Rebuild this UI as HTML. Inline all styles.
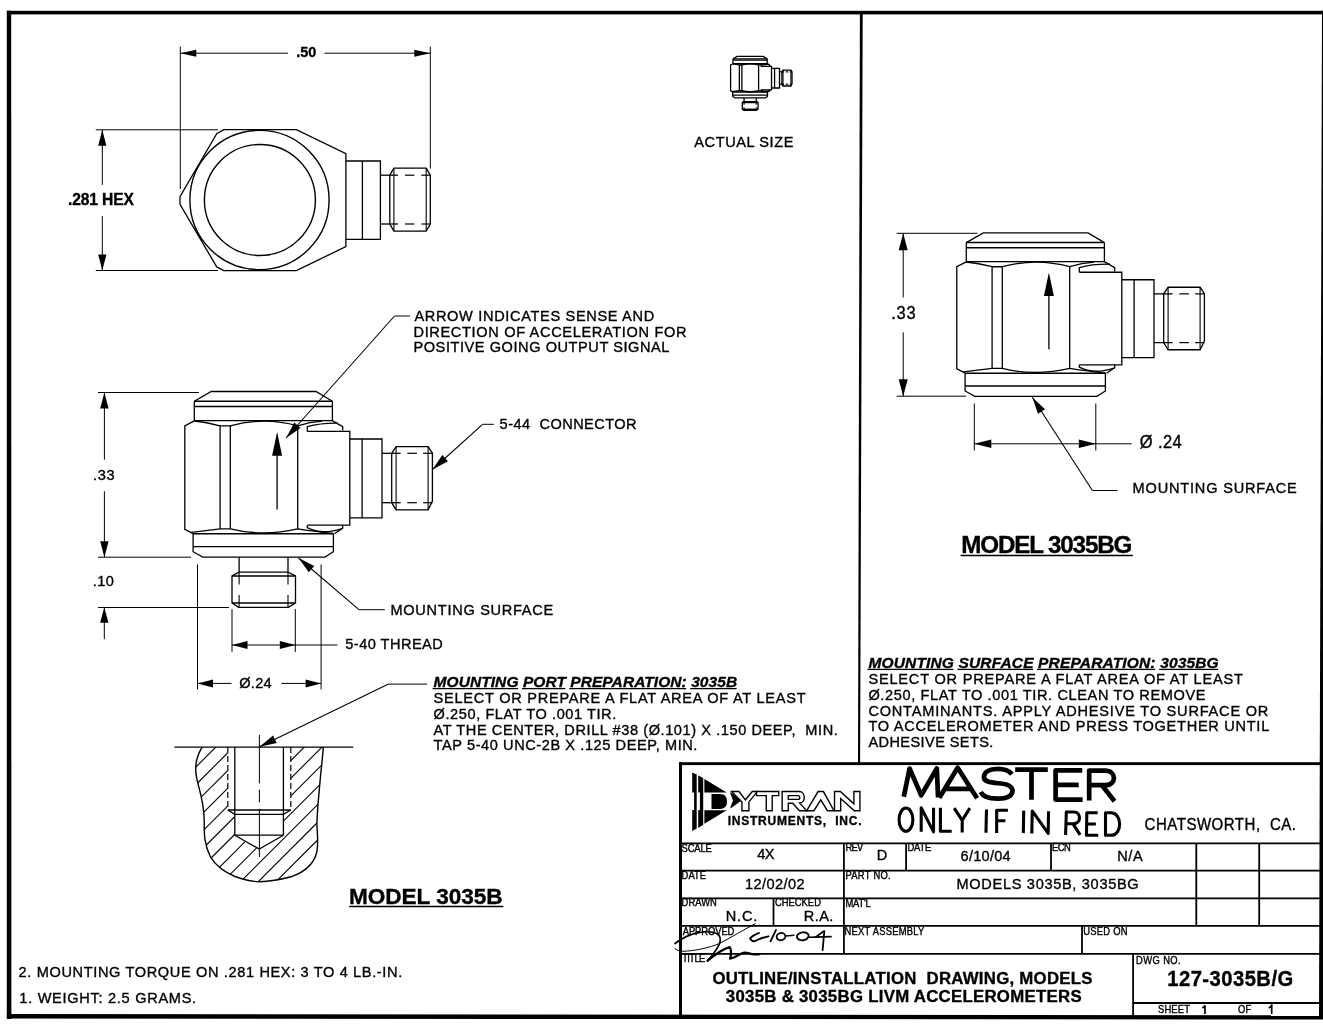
<!DOCTYPE html>
<html><head><meta charset="utf-8"><title>Outline Drawing 3035B</title>
<style>
html,body{margin:0;padding:0;background:#fff;overflow:hidden;}
svg{display:block;will-change:transform;}
.ns *{vector-effect:non-scaling-stroke;}
#sv *,#stud *{vector-effect:non-scaling-stroke;}
text{font-family:"Liberation Sans",sans-serif;}
</style></head><body>
<svg width="1323" height="1024" viewBox="0 0 1323 1024" stroke="#000" stroke-linecap="butt">
<rect x="7" y="10.8" width="1320" height="3.6" fill="#000" stroke="none"/>
<path d="M6.8,10.8 L11.2,10.8 L11.4,1019 L6.8,1019 Z" fill="#000" stroke="none"/>
<path d="M6.8,1014 L1330,1015.2 L1330,1019.5 L6.8,1018.5 Z" fill="#000" stroke="none"/>
<path d="M1322,10.8 L1330,10.8 L1330,1019 L1319,1019 Z" fill="#000" stroke="none"/>
<path d="M859.9,12 L862.7,12 L860.1,763 L858,763 Z" fill="#000" stroke="none"/>
<path d="M223.75,129.7 L296.4,129.7 L345.9,153.6 L345.9,246.6 L296.4,270.6 L223.75,270.6 L216.7,266.9 L180,204.4 L180,196.6 L216.7,133.75 Z" stroke-width="1.3" fill="none" />
<circle cx="259.5" cy="200" r="69.6" fill="none" stroke-width="1.4"/>
<circle cx="259.9" cy="200" r="55.5" fill="none" stroke-width="1.4"/>
<path d="M345.9,161 L380.4,161 L380.4,239.3 L345.9,239.3" stroke-width="1.3" fill="none" />
<line x1="362.4" y1="161" x2="362.4" y2="239.3" stroke-width="1.3" />
<line x1="380.4" y1="175.2" x2="398" y2="175.2" stroke-width="1.3" />
<line x1="380.4" y1="224" x2="398" y2="224" stroke-width="1.3" />
<path d="M389.8,175.2 L393.9,168.1 L426.2,168.1 L430.3,175.2 L430.3,224 L426.2,231.1 L393.9,231.1 L389.8,224 Z" stroke-width="1.3" fill="none" />
<line x1="393.9" y1="168.1" x2="393.9" y2="231.1" stroke-width="1.1" />
<line x1="426.2" y1="168.1" x2="426.2" y2="231.1" stroke-width="1.1" />
<line x1="405" y1="175.2" x2="414.4" y2="175.2" stroke-width="1.2" />
<line x1="421.4" y1="175.2" x2="430.3" y2="175.2" stroke-width="1.2" />
<line x1="405" y1="224" x2="414.4" y2="224" stroke-width="1.2" />
<line x1="421.4" y1="224" x2="430.3" y2="224" stroke-width="1.2" />
<line x1="180.3" y1="46.6" x2="180.3" y2="189" stroke-width="1" />
<line x1="430.3" y1="46.6" x2="430.3" y2="168.5" stroke-width="1" />
<line x1="180.3" y1="53.2" x2="288" y2="53.2" stroke-width="1" />
<line x1="324.5" y1="53.2" x2="430.3" y2="53.2" stroke-width="1" />
<path d="M180.3,53.2 L196.3,56.7 L196.3,49.7 Z" fill="#000" stroke="none"/>
<path d="M430.3,53.2 L414.3,49.7 L414.3,56.7 Z" fill="#000" stroke="none"/>
<text transform="translate(296.2,57.1) scale(1.0000,1)" font-size="14.4" font-weight="bold" textLength="20" lengthAdjust="spacing" fill="#000" stroke="#000" stroke-width="0.35" xml:space="preserve">.50</text>
<line x1="95.8" y1="129.8" x2="218" y2="129.8" stroke-width="1" />
<line x1="95.8" y1="270.5" x2="218" y2="270.5" stroke-width="1" />
<line x1="102.3" y1="129.8" x2="102.3" y2="184.8" stroke-width="1" />
<line x1="102.3" y1="216.1" x2="102.3" y2="270.5" stroke-width="1" />
<path d="M102.3,129.8 L98.2,145.8 L106.4,145.8 Z" fill="#000" stroke="none"/>
<path d="M102.3,270.5 L106.4,254.5 L98.2,254.5 Z" fill="#000" stroke="none"/>
<text transform="translate(68.05,204.7) scale(1.0000,1)" font-size="15.6" font-weight="bold" textLength="65.75" lengthAdjust="spacing" fill="#000" stroke="#000" stroke-width="0.35" xml:space="preserve">.281 HEX</text>
<text transform="translate(694.3,147.3) scale(0.9400,1)" font-size="15.5" textLength="105.44" lengthAdjust="spacing" fill="#000" stroke="#000" stroke-width="0.37" xml:space="preserve">ACTUAL SIZE</text>
<g id="sv"><path d="M194.3,401.3 L211.3,391.5 L316,391.5 L332.4,401.3" stroke-width="1.3" fill="none" /><line x1="194.3" y1="401.3" x2="332.4" y2="401.3" stroke-width="1.4" /><line x1="194.3" y1="406.5" x2="332.4" y2="406.5" stroke-width="1.4" /><line x1="194.3" y1="401.3" x2="194.3" y2="420.6" stroke-width="1.3" /><line x1="332.4" y1="401.3" x2="332.4" y2="420.6" stroke-width="1.3" /><line x1="194.3" y1="420.6" x2="332.4" y2="420.6" stroke-width="1.4" /><path d="M194.3,420.8 L184.8,425.8 L184.8,529.3 L191.3,532.6 L193.1,533.8" stroke-width="1.3" fill="none" /><path d="M194.3,421 Q206,422.2 220.1,425.8 L230.3,425.8 Q264,416.5 297.7,425.8 Q310,422 322,421.2" stroke-width="1.3" fill="none" /><line x1="220.1" y1="425.8" x2="220.1" y2="528.9" stroke-width="1.3" /><line x1="230.3" y1="425.8" x2="230.3" y2="528.9" stroke-width="1.3" /><line x1="297.7" y1="425.8" x2="297.7" y2="528.9" stroke-width="1.3" /><path d="M332.3,420.6 L342.7,426.7 L342.7,430.6" stroke-width="1.3" fill="none" /><path d="M307.3,431.4 L307.3,426.7 Q320,423 338,423.2" stroke-width="1.3" fill="none" /><path d="M307.3,431.4 L349.8,431.4 L349.8,525.2 L307.3,525.2" stroke-width="1.3" fill="none" /><path d="M191.3,532.4 Q206,530.8 220.1,528.9 L230.3,528.9 Q263,537 297.7,528.9 Q312,531.3 333.4,533.5" stroke-width="1.3" fill="none" /><path d="M307.3,525.2 L307.3,527.6 Q322,535.5 342.7,528.3" stroke-width="1.3" fill="none" /><path d="M342.7,525.2 L342.7,528.1 L334.5,533.8" stroke-width="1.3" fill="none" /><path d="M349.8,439 L382,439 L382,517.9 L349.8,517.9" stroke-width="1.3" fill="none" /><line x1="362.1" y1="439" x2="362.1" y2="517.9" stroke-width="1.3" /><line x1="382" y1="453.3" x2="400.6" y2="453.3" stroke-width="1.3" /><line x1="382" y1="502.7" x2="400.6" y2="502.7" stroke-width="1.3" /><path d="M391.7,453.3 L396.1,446.6 L428.1,446.6 L432.4,453.1 L432.4,501.1 L428.1,509.9 L396.1,509.9 L391.7,502.7 Z" stroke-width="1.3" fill="none" /><line x1="396.1" y1="446.6" x2="396.1" y2="509.9" stroke-width="1.1" /><line x1="428.1" y1="446.6" x2="428.1" y2="509.9" stroke-width="1.1" /><line x1="407.3" y1="453.3" x2="416.9" y2="453.3" stroke-width="1.2" /><line x1="423.1" y1="453.3" x2="432.4" y2="453.3" stroke-width="1.2" /><line x1="407.3" y1="502.7" x2="416.9" y2="502.7" stroke-width="1.2" /><line x1="423.1" y1="502.7" x2="432.4" y2="502.7" stroke-width="1.2" /><line x1="193.1" y1="533.8" x2="333.4" y2="533.8" stroke-width="1.4" /><path d="M193.1,533.8 L193.1,551.7 L202.8,557.1 L324.9,557.1 L333.4,551.7 L333.4,533.8" stroke-width="1.3" fill="none" /><line x1="193.1" y1="546.6" x2="333.4" y2="546.6" stroke-width="1.4" /></g>
<use href="#sv" transform="translate(772,232.9) scale(1,0.9867) translate(0,-391.5)"/>
<g id="stud"><line x1="239.1" y1="557.2" x2="239.1" y2="572.4" stroke-width="1.3" /><line x1="288" y1="557.2" x2="288" y2="572.4" stroke-width="1.3" /><path d="M239.1,572.2 L232,575.8 L232,602.8 L238.5,607.4 L288.4,607.4 L295.5,602.8 L295.5,575.8 L288,572.2 Z" stroke-width="1.3" fill="none" /><line x1="232" y1="576" x2="295.5" y2="576" stroke-width="1.4" /><line x1="232" y1="603" x2="295.5" y2="603" stroke-width="1.4" /><line x1="239.1" y1="572.2" x2="239.1" y2="584.5" stroke-width="1.1" /><line x1="239.1" y1="595.1" x2="239.1" y2="607.4" stroke-width="1.1" /><line x1="288" y1="572.2" x2="288" y2="584.5" stroke-width="1.1" /><line x1="288" y1="595.1" x2="288" y2="607.4" stroke-width="1.1" /></g>
<line x1="277.1" y1="450" x2="277.1" y2="509.6" stroke-width="1.3" />
<path d="M277.1,432 L272.1,455.7 L282.1,455.7 Z" fill="#000" stroke="none"/>
<line x1="1048.9" y1="295" x2="1048.9" y2="349.3" stroke-width="1.3" />
<path d="M1048.9,272.5 L1043.9,295.9 L1053.9,295.9 Z" fill="#000" stroke="none"/>
<g transform="translate(730.6,56.4) scale(0.248,0.25) translate(-184.8,-391.5)" class="ns"><use href="#sv"/><use href="#stud"/></g>
<line x1="394.5" y1="316" x2="410" y2="316" stroke-width="1" />
<line x1="394.5" y1="316" x2="286.1" y2="438" stroke-width="1.1" />
<path d="M286.1,438 L300.53,428.08 L294.25,422.5 Z" fill="#000" stroke="none"/>
<text transform="translate(414.4,320.8) scale(0.9400,1)" font-size="15.5" textLength="255.09" lengthAdjust="spacing" fill="#000" stroke="#000" stroke-width="0.37" xml:space="preserve">ARROW INDICATES SENSE AND</text>
<text transform="translate(413.46,336.6) scale(0.9400,1)" font-size="15.5" textLength="290.45" lengthAdjust="spacing" fill="#000" stroke="#000" stroke-width="0.37" xml:space="preserve">DIRECTION OF ACCELERATION FOR</text>
<text transform="translate(413.46,352.4) scale(0.9400,1)" font-size="15.5" textLength="272.32" lengthAdjust="spacing" fill="#000" stroke="#000" stroke-width="0.37" xml:space="preserve">POSITIVE GOING OUTPUT SIGNAL</text>
<line x1="482.6" y1="424.3" x2="493.9" y2="424.3" stroke-width="1" />
<line x1="482.6" y1="424.3" x2="432.5" y2="469.5" stroke-width="1.1" />
<path d="M432.5,469.5 L447.94,461.23 L442.31,454.99 Z" fill="#000" stroke="none"/>
<text transform="translate(499.6,429.2) scale(0.9400,1)" font-size="15.5" textLength="145.73" lengthAdjust="spacing" fill="#000" stroke="#000" stroke-width="0.37" xml:space="preserve">5-44  CONNECTOR</text>
<line x1="98" y1="392.5" x2="199" y2="392.5" stroke-width="1" />
<line x1="98" y1="557.2" x2="191" y2="557.2" stroke-width="1" />
<line x1="98" y1="607.5" x2="228.9" y2="607.5" stroke-width="1" />
<line x1="104.4" y1="392.5" x2="104.4" y2="459.7" stroke-width="1" />
<line x1="104.4" y1="491.3" x2="104.4" y2="557.2" stroke-width="1" />
<path d="M104.4,392.5 L100.2,408.5 L108.6,408.5 Z" fill="#000" stroke="none"/>
<path d="M104.4,557.2 L108.6,541.2 L100.2,541.2 Z" fill="#000" stroke="none"/>
<text transform="translate(92.96,479.5) scale(0.9400,1)" font-size="15.5" textLength="23.11" lengthAdjust="spacing" fill="#000" stroke="#000" stroke-width="0.37" xml:space="preserve">.33</text>
<text transform="translate(92.86,586.2) scale(0.9400,1)" font-size="15.5" textLength="22.32" lengthAdjust="spacing" fill="#000" stroke="#000" stroke-width="0.37" xml:space="preserve">.10</text>
<line x1="104.3" y1="607.5" x2="104.3" y2="639.2" stroke-width="1" />
<path d="M104.3,607.5 L100.1,622.8 L108.5,622.8 Z" fill="#000" stroke="none"/>
<line x1="358.9" y1="609.7" x2="384.8" y2="609.7" stroke-width="1" />
<line x1="358.9" y1="609.7" x2="298.6" y2="558" stroke-width="1.1" />
<path d="M298.6,558 L308.77,572.25 L314.24,565.88 Z" fill="#000" stroke="none"/>
<text transform="translate(390.46,615.2) scale(0.9400,1)" font-size="15.5" textLength="173.15" lengthAdjust="spacing" fill="#000" stroke="#000" stroke-width="0.37" xml:space="preserve">MOUNTING SURFACE</text>
<line x1="232" y1="609.1" x2="232" y2="651.9" stroke-width="1" />
<line x1="295.3" y1="609.1" x2="295.3" y2="651.9" stroke-width="1" />
<line x1="232" y1="645" x2="337.4" y2="645" stroke-width="1" />
<path d="M232,645 L247.5,649 L247.5,641 Z" fill="#000" stroke="none"/>
<path d="M295.3,645 L279.8,641 L279.8,649 Z" fill="#000" stroke="none"/>
<text transform="translate(345.3,648.5) scale(0.9400,1)" font-size="15.5" textLength="103.7" lengthAdjust="spacing" fill="#000" stroke="#000" stroke-width="0.37" xml:space="preserve">5-40 THREAD</text>
<line x1="197.5" y1="564.4" x2="197.5" y2="689.4" stroke-width="1" />
<line x1="321.1" y1="564.4" x2="321.1" y2="689.4" stroke-width="1" />
<line x1="197.5" y1="683.4" x2="231.5" y2="683.4" stroke-width="1" />
<line x1="281.4" y1="683.4" x2="321.1" y2="683.4" stroke-width="1" />
<path d="M197.5,683.4 L213,687.4 L213,679.4 Z" fill="#000" stroke="none"/>
<path d="M321.1,683.4 L305.6,679.4 L305.6,687.4 Z" fill="#000" stroke="none"/>
<text transform="translate(239.2,687.6) scale(0.9400,1)" font-size="15.5" textLength="34.51" lengthAdjust="spacing" fill="#000" stroke="#000" stroke-width="0.37" xml:space="preserve">Ø.24</text>
<defs><clipPath id="secclip"><path d="M202.3,746.9 C196,757 194.5,768 196.7,778 C198.5,788 203,798 204,816.2 C205,828 202,840 210.6,857.2 C216,866 224,872 235,876.5 C245,880 252,881.8 259.5,881.8 C272,881.5 281,879.5 291,876.8 C305,872 314,864 316.8,852 C319,840 316.5,830 317,822 C317.5,805 319,795 319.8,784 C321,770 322.5,758 323.4,746.9 Z"/><clipPath id="holeclip"><path d="M0,0 H1323 V1024 H0 Z M227.8,746 L290.8,746 L290.8,810 L283.4,814.3 L283.4,835.2 L259.3,849.1 L234.8,835.2 L234.8,814.3 L227.8,810 Z" clip-rule="evenodd"/></clipPath></defs>
<g clip-path="url(#secclip)"><g clip-path="url(#holeclip)" stroke-width="1.1"><line x1="674.4" y1="200" x2="-25.6" y2="900" /><line x1="692.1" y1="200" x2="-7.9" y2="900" /><line x1="709.8" y1="200" x2="9.8" y2="900" /><line x1="727.5" y1="200" x2="27.5" y2="900" /><line x1="745.2" y1="200" x2="45.2" y2="900" /><line x1="762.9" y1="200" x2="62.9" y2="900" /><line x1="780.6" y1="200" x2="80.6" y2="900" /><line x1="798.3" y1="200" x2="98.3" y2="900" /><line x1="816" y1="200" x2="116" y2="900" /><line x1="833.7" y1="200" x2="133.7" y2="900" /><line x1="851.4" y1="200" x2="151.4" y2="900" /><line x1="869.1" y1="200" x2="169.1" y2="900" /><line x1="886.8" y1="200" x2="186.8" y2="900" /><line x1="904.5" y1="200" x2="204.5" y2="900" /><line x1="922.2" y1="200" x2="222.2" y2="900" /><line x1="939.9" y1="200" x2="239.9" y2="900" /><line x1="957.6" y1="200" x2="257.6" y2="900" /><line x1="975.3" y1="200" x2="275.3" y2="900" /><line x1="993" y1="200" x2="293" y2="900" /><line x1="1010.7" y1="200" x2="310.7" y2="900" /><line x1="1028.4" y1="200" x2="328.4" y2="900" /><line x1="1046.1" y1="200" x2="346.1" y2="900" /></g></g>
<path d="M202.3,746.9 C196,757 194.5,768 196.7,778 C198.5,788 203,798 204,816.2 C205,828 202,840 210.6,857.2 C216,866 224,872 235,876.5 C245,880 252,881.8 259.5,881.8 C272,881.5 281,879.5 291,876.8 C305,872 314,864 316.8,852 C319,840 316.5,830 317,822 C317.5,805 319,795 319.8,784 C321,770 322.5,758 323.4,746.9" stroke-width="1.4" fill="none" />
<line x1="174.5" y1="747.1" x2="353.3" y2="747.1" stroke-width="1.4" />
<line x1="227.8" y1="747.1" x2="227.8" y2="810" stroke-width="1.2" stroke-dasharray="6,3"/>
<line x1="290.8" y1="747.1" x2="290.8" y2="810" stroke-width="1.2" stroke-dasharray="6,3"/>
<line x1="234.8" y1="747.1" x2="234.8" y2="835.2" stroke-width="1.3" />
<line x1="283.4" y1="747.1" x2="283.4" y2="835.2" stroke-width="1.3" />
<path d="M227.8,810 L290.8,810" stroke-width="1.3" fill="none" />
<path d="M227.8,810 L234.8,814.3 L283.4,814.3 L290.8,810" stroke-width="1.3" fill="none" />
<path d="M234.8,835.2 L283.4,835.2" stroke-width="1.3" fill="none" />
<path d="M234.8,835.2 L259.3,849.1 L283.4,835.2" stroke-width="1.3" fill="none" />
<line x1="259.4" y1="735" x2="259.4" y2="783.4" stroke-width="1" />
<line x1="259.4" y1="789.7" x2="259.4" y2="802.4" stroke-width="1" />
<line x1="259.4" y1="808.8" x2="259.4" y2="857" stroke-width="1" />
<line x1="388.5" y1="684.1" x2="427.2" y2="684.1" stroke-width="1" />
<line x1="388.5" y1="684.1" x2="259.6" y2="746.7" stroke-width="1.1" />
<path d="M259.6,746.7 L276.73,743.05 L273.06,735.5 Z" fill="#000" stroke="none"/>
<text id="ul12" transform="translate(433.6,687) scale(1.0000,1)" font-size="15.5" font-weight="bold" font-style="italic" textLength="303.49" lengthAdjust="spacing" fill="#000" stroke="#000" stroke-width="0.35" xml:space="preserve">MOUNTING PORT PREPARATION: 3035B</text>
<text transform="translate(433.6,703.2) scale(0.9400,1)" font-size="15.5" textLength="395.74" lengthAdjust="spacing" fill="#000" stroke="#000" stroke-width="0.37" xml:space="preserve">SELECT OR PREPARE A FLAT AREA OF AT LEAST</text>
<text transform="translate(433.6,718.5) scale(0.9400,1)" font-size="15.5" textLength="194.29" lengthAdjust="spacing" fill="#000" stroke="#000" stroke-width="0.37" xml:space="preserve">Ø.250, FLAT TO .001 TIR.</text>
<text transform="translate(433.6,734.5) scale(0.9400,1)" font-size="15.5" textLength="430.03" lengthAdjust="spacing" fill="#000" stroke="#000" stroke-width="0.37" xml:space="preserve">AT THE CENTER, DRILL #38 (Ø.101) X .150 DEEP,  MIN.</text>
<text transform="translate(433.6,750.3) scale(0.9400,1)" font-size="15.5" textLength="280.67" lengthAdjust="spacing" fill="#000" stroke="#000" stroke-width="0.37" xml:space="preserve">TAP 5-40 UNC-2B X .125 DEEP, MIN.</text>
<text transform="translate(349,904.3) scale(1.0000,1)" font-size="22.6" font-weight="bold" textLength="153.52" lengthAdjust="spacing" fill="#000" stroke="#000" stroke-width="0.35" xml:space="preserve">MODEL 3035B</text>
<line x1="349.2" y1="906.6" x2="503.4" y2="906.6" stroke-width="1.5" />
<text transform="translate(18.6,977.4) scale(0.9400,1)" font-size="15.5" textLength="408.11" lengthAdjust="spacing" fill="#000" stroke="#000" stroke-width="0.37" xml:space="preserve">2. MOUNTING TORQUE ON .281 HEX: 3 TO 4 LB.-IN.</text>
<text transform="translate(19.36,1002.9) scale(0.9400,1)" font-size="15.5" textLength="188.05" lengthAdjust="spacing" fill="#000" stroke="#000" stroke-width="0.37" xml:space="preserve">1. WEIGHT: 2.5 GRAMS.</text>
<line x1="896.6" y1="233.3" x2="977.4" y2="233.3" stroke-width="1" />
<line x1="896.6" y1="396.2" x2="966" y2="396.2" stroke-width="1" />
<line x1="903.2" y1="233.3" x2="903.2" y2="297.5" stroke-width="1" />
<line x1="903.2" y1="332.3" x2="903.2" y2="396.2" stroke-width="1" />
<path d="M903.2,233.3 L898.7,250.3 L907.7,250.3 Z" fill="#000" stroke="none"/>
<path d="M903.2,396.2 L907.7,379.2 L898.7,379.2 Z" fill="#000" stroke="none"/>
<text transform="translate(891.16,319.3) scale(0.9400,1)" font-size="17.5" textLength="25.99" lengthAdjust="spacing" fill="#000" stroke="#000" stroke-width="0.37" xml:space="preserve">.33</text>
<line x1="974.3" y1="403.5" x2="974.3" y2="450.5" stroke-width="1" />
<line x1="1095.8" y1="403.5" x2="1095.8" y2="450.5" stroke-width="1" />
<line x1="974.3" y1="443.8" x2="1131.6" y2="443.8" stroke-width="1" />
<path d="M974.3,443.8 L991.3,448 L991.3,439.6 Z" fill="#000" stroke="none"/>
<path d="M1095.8,443.8 L1078.8,439.6 L1078.8,448 Z" fill="#000" stroke="none"/>
<text transform="translate(1139.8,447.9) scale(0.9400,1)" font-size="17.5" textLength="44.52" lengthAdjust="spacing" fill="#000" stroke="#000" stroke-width="0.37" xml:space="preserve">Ø .24</text>
<line x1="1117.6" y1="490.5" x2="1092.4" y2="490.5" stroke-width="1" />
<line x1="1092.4" y1="490.5" x2="1032.3" y2="397.3" stroke-width="1.1" />
<path d="M1032.3,397.3 L1037.98,413.86 L1045.04,409.31 Z" fill="#000" stroke="none"/>
<text transform="translate(1132.56,493.3) scale(0.9400,1)" font-size="15.5" textLength="174.74" lengthAdjust="spacing" fill="#000" stroke="#000" stroke-width="0.37" xml:space="preserve">MOUNTING SURFACE</text>
<text transform="translate(961.3,553) scale(1.0000,1)" font-size="24.2" font-weight="bold" textLength="171.01" lengthAdjust="spacing" fill="#000" stroke="#000" stroke-width="0.35" xml:space="preserve">MODEL 3035BG</text>
<line x1="960.6" y1="555.6" x2="1132.9" y2="555.6" stroke-width="1.5" />
<text id="ul24" transform="translate(868.4,667.8) scale(1.0000,1)" font-size="15.5" font-weight="bold" font-style="italic" textLength="350.26" lengthAdjust="spacing" fill="#000" stroke="#000" stroke-width="0.35" xml:space="preserve">MOUNTING SURFACE PREPARATION: 3035BG</text>
<text transform="translate(868.4,684.2) scale(0.9400,1)" font-size="15.5" textLength="398.4" lengthAdjust="spacing" fill="#000" stroke="#000" stroke-width="0.37" xml:space="preserve">SELECT OR PREPARE A FLAT AREA OF AT LEAST</text>
<text transform="translate(868.4,700.1) scale(0.9400,1)" font-size="15.5" textLength="358.64" lengthAdjust="spacing" fill="#000" stroke="#000" stroke-width="0.37" xml:space="preserve">Ø.250, FLAT TO .001 TIR. CLEAN TO REMOVE</text>
<text transform="translate(868.4,716) scale(0.9400,1)" font-size="15.5" textLength="425.51" lengthAdjust="spacing" fill="#000" stroke="#000" stroke-width="0.37" xml:space="preserve">CONTAMINANTS. APPLY ADHESIVE TO SURFACE OR</text>
<text transform="translate(868.4,731.3) scale(0.9400,1)" font-size="15.5" textLength="426.43" lengthAdjust="spacing" fill="#000" stroke="#000" stroke-width="0.37" xml:space="preserve">TO ACCELEROMETER AND PRESS TOGETHER UNTIL</text>
<text transform="translate(868.4,746.8) scale(0.9400,1)" font-size="15.5" textLength="133.01" lengthAdjust="spacing" fill="#000" stroke="#000" stroke-width="0.37" xml:space="preserve">ADHESIVE SETS.</text>
<rect x="679" y="762.2" width="650" height="2.9" fill="#000" stroke="none"/>
<rect x="679" y="762.2" width="3" height="256" fill="#000" stroke="none"/>
<line x1="681" y1="843.3" x2="1322" y2="843.3" stroke-width="1.8" />
<line x1="681" y1="870.7" x2="1322" y2="870.7" stroke-width="1.8" />
<line x1="681" y1="898.4" x2="1322" y2="898.4" stroke-width="1.8" />
<line x1="681" y1="925.8" x2="1322" y2="925.8" stroke-width="1.8" />
<line x1="681" y1="953.8" x2="1322" y2="953.8" stroke-width="1.8" />
<line x1="843.9" y1="843.3" x2="843.9" y2="953.8" stroke-width="1.8" />
<line x1="906.1" y1="843.3" x2="906.1" y2="870.7" stroke-width="1.8" />
<line x1="1051" y1="843.3" x2="1051" y2="870.7" stroke-width="1.8" />
<line x1="1196.3" y1="843.3" x2="1196.3" y2="925.8" stroke-width="1.8" />
<line x1="1259.2" y1="843.3" x2="1259.2" y2="925.8" stroke-width="1.8" />
<line x1="773.5" y1="898.4" x2="773.5" y2="925.8" stroke-width="1.8" />
<line x1="1082" y1="925.8" x2="1082" y2="953.8" stroke-width="1.8" />
<line x1="1133.1" y1="953.8" x2="1133.1" y2="1016" stroke-width="1.8" />
<line x1="1133.1" y1="1003" x2="1322" y2="1003" stroke-width="1.8" />
<text transform="translate(681.6,851.7) scale(0.9400,1)" font-size="10" textLength="32.12" lengthAdjust="spacing" fill="#000" stroke="#000" stroke-width="0.37" xml:space="preserve">SCALE</text>
<text transform="translate(757.3,858.9) scale(0.9400,1)" font-size="15.5" textLength="18.38" lengthAdjust="spacing" fill="#000" stroke="#000" stroke-width="0.37" xml:space="preserve">4X</text>
<text transform="translate(845.4,851.2) scale(0.9400,1)" font-size="10" textLength="19.03" lengthAdjust="spacing" fill="#000" stroke="#000" stroke-width="0.37" xml:space="preserve">REV</text>
<text transform="translate(876.76,860.3) scale(0.9400,1)" font-size="15.5" textLength="11.62" lengthAdjust="spacing" fill="#000" stroke="#000" stroke-width="0.37" xml:space="preserve">D</text>
<text transform="translate(907.5,851.4) scale(0.9400,1)" font-size="10" textLength="25.31" lengthAdjust="spacing" fill="#000" stroke="#000" stroke-width="0.37" xml:space="preserve">DATE</text>
<text transform="translate(960.6,861.2) scale(0.9400,1)" font-size="15.5" textLength="53.34" lengthAdjust="spacing" fill="#000" stroke="#000" stroke-width="0.37" xml:space="preserve">6/10/04</text>
<text transform="translate(1051.9,851.4) scale(0.9400,1)" font-size="10" textLength="20.22" lengthAdjust="spacing" fill="#000" stroke="#000" stroke-width="0.37" xml:space="preserve">ECN</text>
<text transform="translate(1117.16,861) scale(0.9400,1)" font-size="15.5" textLength="27.15" lengthAdjust="spacing" fill="#000" stroke="#000" stroke-width="0.37" xml:space="preserve">N/A</text>
<text transform="translate(681.6,878.7) scale(0.9400,1)" font-size="10" textLength="25.95" lengthAdjust="spacing" fill="#000" stroke="#000" stroke-width="0.37" xml:space="preserve">DATE</text>
<text transform="translate(744.96,889) scale(0.9400,1)" font-size="15.5" textLength="63.54" lengthAdjust="spacing" fill="#000" stroke="#000" stroke-width="0.37" xml:space="preserve">12/02/02</text>
<text transform="translate(845.4,879) scale(0.9400,1)" font-size="10" textLength="48.12" lengthAdjust="spacing" fill="#000" stroke="#000" stroke-width="0.37" xml:space="preserve">PART NO.</text>
<text transform="translate(956.56,888.7) scale(0.9400,1)" font-size="15.5" textLength="193.76" lengthAdjust="spacing" fill="#000" stroke="#000" stroke-width="0.37" xml:space="preserve">MODELS 3035B, 3035BG</text>
<text transform="translate(681.6,906.3) scale(0.9400,1)" font-size="10" textLength="37.56" lengthAdjust="spacing" fill="#000" stroke="#000" stroke-width="0.37" xml:space="preserve">DRAWN</text>
<text transform="translate(725.86,920.8) scale(0.9400,1)" font-size="15.5" textLength="33.37" lengthAdjust="spacing" fill="#000" stroke="#000" stroke-width="0.37" xml:space="preserve">N.C.</text>
<text transform="translate(774.9,906.3) scale(0.9400,1)" font-size="10" textLength="48.95" lengthAdjust="spacing" fill="#000" stroke="#000" stroke-width="0.37" xml:space="preserve">CHECKED</text>
<text transform="translate(803.86,921.1) scale(0.9400,1)" font-size="15.5" textLength="31.35" lengthAdjust="spacing" fill="#000" stroke="#000" stroke-width="0.37" xml:space="preserve">R.A.</text>
<text transform="translate(845.4,907.1) scale(0.9400,1)" font-size="10" textLength="27.01" lengthAdjust="spacing" fill="#000" stroke="#000" stroke-width="0.37" xml:space="preserve">MAT&#39;L</text>
<text transform="translate(682.7,934.8) scale(0.9400,1)" font-size="10" textLength="55.01" lengthAdjust="spacing" fill="#000" stroke="#000" stroke-width="0.37" xml:space="preserve">APPROVED</text>
<text transform="translate(844.5,934.8) scale(0.9400,1)" font-size="10" textLength="84.99" lengthAdjust="spacing" fill="#000" stroke="#000" stroke-width="0.37" xml:space="preserve">NEXT ASSEMBLY</text>
<text transform="translate(1083.2,934.8) scale(0.9400,1)" font-size="10" textLength="47.14" lengthAdjust="spacing" fill="#000" stroke="#000" stroke-width="0.37" xml:space="preserve">USED ON</text>
<text transform="translate(682.2,962.3) scale(0.9400,1)" font-size="10" textLength="24.67" lengthAdjust="spacing" fill="#000" stroke="#000" stroke-width="0.37" xml:space="preserve">TITLE</text>
<text transform="translate(1136.1,964.3) scale(0.9400,1)" font-size="10" textLength="47.37" lengthAdjust="spacing" fill="#000" stroke="#000" stroke-width="0.37" xml:space="preserve">DWG NO.</text>
<text transform="translate(712.4,984.3) scale(1.0000,1)" font-size="16.8" font-weight="bold" textLength="380.09" lengthAdjust="spacing" fill="#000" stroke="#000" stroke-width="0.35" xml:space="preserve">OUTLINE/INSTALLATION  DRAWING, MODELS</text>
<text transform="translate(725.8,1001.8) scale(1.0000,1)" font-size="16.8" font-weight="bold" textLength="355.79" lengthAdjust="spacing" fill="#000" stroke="#000" stroke-width="0.35" xml:space="preserve">3035B &amp; 3035BG LIVM ACCELEROMETERS</text>
<text transform="translate(1167.28,985.6) scale(0.9200,1)" font-size="22" font-weight="bold" textLength="136.89" lengthAdjust="spacing" fill="#000" stroke="#000" stroke-width="0.38" xml:space="preserve">127-3035B/G</text>
<text transform="translate(1158,1013) scale(0.9400,1)" font-size="10" textLength="33.94" lengthAdjust="spacing" fill="#000" stroke="#000" stroke-width="0.37" xml:space="preserve">SHEET</text>
<path d="M1202.3,1008 C1203.8,1007.3 1204.6,1006.3 1205,1005.4 L1205,1013.9" stroke-width="1.7" fill="none" />
<text transform="translate(1238,1013) scale(0.9400,1)" font-size="10" textLength="14.04" lengthAdjust="spacing" fill="#000" stroke="#000" stroke-width="0.37" xml:space="preserve">OF</text>
<path d="M1268.7,1008 C1270.3,1007.3 1271.2,1006.3 1271.7,1005.4 L1271.7,1013.9" stroke-width="1.7" fill="none" />
<text transform="translate(1144.6,830.4) scale(0.9400,1)" font-size="16" textLength="161.02" lengthAdjust="spacing" fill="#000" stroke="#000" stroke-width="0.37" xml:space="preserve">CHATSWORTH,  CA.</text>
<g fill="#000" stroke="none"><path d="M692.2,772.5 L696.7,774.4 L696.7,828.6 L692.2,830.9 L692.2,809.9 L694.1,809.9 L694.1,792.5 L692.2,792.5 Z"/><path d="M698.2,775.4 L703.2,778 L703.2,824.7 L698.2,828 L698.2,809.9 L699.9,809.9 L699.9,792.5 L698.2,792.5 Z"/><path d="M704.4,779 L726.7,792.5 L704.4,792.5 Z"/><path d="M704.4,810.2 L726.7,810.2 L704.4,823.8 Z"/><path d="M711.5,794.1 L720,794.1 Q727,794.1 727,801.5 Q727,808.9 720,808.9 L711.5,808.9 Z"/><path d="M729.8,792 L737.5,797.5 L741,797 L736.6,801 L729.8,808.5 L733,800.5 Z"/></g>
<g transform="translate(725,785) scale(0.10582)" fill="#fff" stroke="#000" stroke-width="13" stroke-linejoin="miter"><path d="M62,62 L132,62 L193,140 L258,62 L305,62 L226,160 L226,243 L160,243 L160,160 Z"/><path d="M298,62 L508,62 L508,100 L446,100 L446,243 L390,243 L390,100 L298,100 Z"/><path d="M540,62 L700,62 C765,62 765,168 705,170 L772,243 L703,243 L640,172 L598,172 L598,243 L540,243 Z M598,100 L690,100 C712,100 712,136 690,136 L598,136 Z" fill-rule="evenodd"/><path d="M772,243 L880,62 L930,62 L1030,243 L968,243 L905,140 L840,243 Z"/><path d="M1035,62 L1090,62 L1218,178 L1218,62 L1275,62 L1275,243 L1222,243 L1093,128 L1093,243 L1035,243 Z"/></g>
<path d="M730.5,792.2 L741.5,800.6 L730.5,808.4 L734.3,800.6 Z" fill="#000" stroke="none"/>
<text transform="translate(727.7,825.4) scale(1.0000,1)" font-size="12" font-weight="bold" textLength="133.83" lengthAdjust="spacing" fill="#000" stroke="#000" stroke-width="0.35" xml:space="preserve">INSTRUMENTS,  INC.</text>
<g transform="translate(890,762) scale(0.1814)" fill="none" stroke="#000" stroke-width="26" stroke-linejoin="round" stroke-linecap="butt"><path d="M76,192 L108,36 L172,184 L258,36 L265,195"/><path d="M272,197 L373,32 L480,200 M312,148 L444,148"/><path d="M672,68 C640,28 528,26 518,78 C510,122 600,112 642,124 C694,140 690,200 600,202 C552,203 512,190 500,165"/><path d="M690,42 L870,42 M780,42 L780,208"/><path d="M1060,46 L913,46 L913,207 L1062,207 M913,126 L1040,126"/><path d="M1098,212 L1098,48 L1185,48 C1250,48 1252,128 1185,128 L1098,128 M1168,128 L1238,216"/></g>
<g transform="translate(890,762) scale(0.1814)" fill="none" stroke="#000" stroke-width="17" stroke-linejoin="round" stroke-linecap="butt"><ellipse cx="88" cy="318" rx="38" ry="64"/><path d="M172,385 L172,252 L240,385 L240,252"/><path d="M278,252 L278,382 L340,382"/><path d="M354,254 L398,322 L440,254 M398,322 L398,388"/><path d="M532,262 L529,390"/><path d="M588,392 L588,266 L650,266 M588,324 L636,324"/><path d="M737,268 L735,392"/><path d="M782,394 L784,270 L872,394 L874,272"/><path d="M968,402 L972,276 L1015,276 C1055,276 1055,340 1012,340 L970,340 M1008,340 L1048,402"/><path d="M1145,280 L1085,280 L1083,404 L1148,404 M1084,342 L1135,342"/><path d="M1188,404 L1188,280 L1218,280 C1282,280 1282,404 1218,404 Z"/></g>
<g fill="none" stroke="#000" stroke-linecap="round" stroke-linejoin="round"><path d="M755.3,923.7 C745,929 730,938 719.5,943.5 C710,947.5 695,951 682.8,951.3 C679,951.2 676.5,950 675,948.6" stroke-width="1"/><path d="M675,943.5 C680,939.5 690,934 700,932.3 C708,931.2 715,931.8 718.8,935 C721.2,938 720.5,943 717,948.5 C714.3,952.8 711,957 707.5,960.8" stroke-width="1.7"/><path d="M707.5,960.8 C714,955.5 721,949.5 729.7,947.2 C731.8,950 731.2,955.5 730,958.6 C734,958.4 738,955.2 742,953.2 C746,951.4 749,953.8 752,954.2 C756,954.5 758,954.3 759.5,954.1" stroke-width="2.3"/><path d="M758.9,932.9 C755,934.6 751.5,936.8 750.1,938.3 C751.2,940.6 753,941.6 755,941 C758,940 760,938.6 762,938 L768.5,936.3" stroke-width="1.9"/><path d="M776,929.8 L770.5,941.4" stroke-width="1.8"/><ellipse cx="781" cy="936.6" rx="4.4" ry="3.6" transform="rotate(-12 781 936.6)" stroke-width="1.8"/><path d="M785.8,936 L794,935.3" stroke-width="1.6"/><ellipse cx="802.8" cy="936.3" rx="5.9" ry="4" transform="rotate(-8 802.8 936.3)" stroke-width="1.9"/><path d="M809.3,937.3 L815.7,937.1" stroke-width="1.6"/><path d="M823.2,931.5 L815.7,937.1 L831,936.6" stroke-width="1.8"/><path d="M824.3,931.2 L822.6,950.2" stroke-width="1.8"/></g>
<rect x="432.6" y="687.95" width="85.36" height="1.3" fill="#000" stroke="none"/>
<rect x="521.89" y="687.95" width="43.48" height="1.3" fill="#000" stroke="none"/>
<rect x="569.29" y="687.95" width="116.92" height="1.3" fill="#000" stroke="none"/>
<rect x="690.15" y="687.95" width="46.44" height="1.3" fill="#000" stroke="none"/>
<rect x="867.4" y="668.75" width="85.98" height="1.3" fill="#000" stroke="none"/>
<rect x="957.49" y="668.75" width="75.52" height="1.3" fill="#000" stroke="none"/>
<rect x="1037.13" y="668.75" width="117.91" height="1.3" fill="#000" stroke="none"/>
<rect x="1159.15" y="668.75" width="59.01" height="1.3" fill="#000" stroke="none"/>
</svg>
</body></html>
